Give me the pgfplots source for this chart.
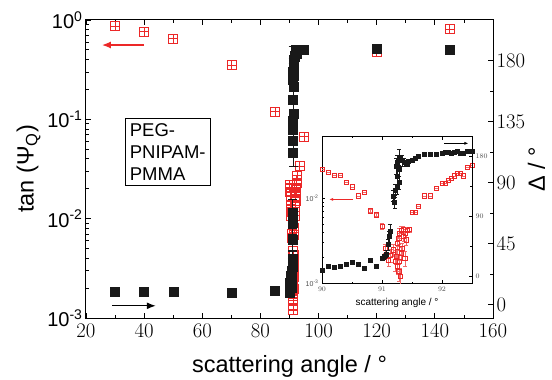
\documentclass[border=0pt]{standalone}
\usepackage{pgfplots}
\pgfplotsset{compat=1.18}
\usepackage{pgfplotstable}
\usepackage{fontspec}
\setmainfont{Liberation Sans}
\usetikzlibrary{arrows.meta}
\definecolor{myred}{RGB}{236,40,40}
\definecolor{myblack}{RGB}{25,25,25}

\pgfdeclareplotmark{sqplus}{%
  \pgfpathrectangle{\pgfqpoint{-\pgfplotmarksize}{-\pgfplotmarksize}}{\pgfqpoint{2\pgfplotmarksize}{2\pgfplotmarksize}}%
  \pgfpathmoveto{\pgfqpoint{-\pgfplotmarksize}{0pt}}\pgfpathlineto{\pgfqpoint{\pgfplotmarksize}{0pt}}%
  \pgfpathmoveto{\pgfqpoint{0pt}{-\pgfplotmarksize}}\pgfpathlineto{\pgfqpoint{0pt}{\pgfplotmarksize}}%
  \pgfusepathqstroke}

% tan(Psi) outside the inset range
\pgfplotstableread{
x y
30 0.87
40 0.76
50 0.65
70 0.353
85 0.12
92.6 0.027
93.4 0.034
95 0.067
120 0.48
145 0.81
}\redmain

% Delta outside the inset range
\pgfplotstableread{
x y
30 9.5
40 9.5
50 9.6
70 9
85 10
95 188
120 189
145 188
}\blackmain

% tan(Psi) near 90 deg
\pgfplotstableread{
x y e
90.00 0.0219 0
90.10 0.0204 0
90.20 0.0187 0
90.30 0.0186 0
90.40 0.0153 0
90.50 0.0136 0
90.60 0.0107 0
90.70 0.0118 0
90.80 0.0071 0.0003
90.90 0.0064 0.0003
91.00 0.0047 0.0004
91.05 0.00258 0.0003
91.11 0.00188 0.0003
91.14 0.00215 0.0004
91.19 0.00247 0.0004
91.22 0.00180 0.0004
91.24 0.00206 0.0004
91.26 0.00157 0.0003
91.26 0.00295 0.0005
91.26 0.00235 0.0004
91.28 0.00137 0.0003
91.28 0.00338 0.0005
91.29 0.00389 0.0005
91.29 0.00180 0.0004
91.30 0.00120 0.0003
91.32 0.00424 0.0004
91.32 0.00225 0.0004
91.33 0.00258 0.0004
91.35 0.00431 0.0004
91.36 0.00355 0.0004
91.38 0.00197 0.0004
91.39 0.00389 0.0004
91.40 0.00324 0.0004
91.42 0.00424 0.0003
91.46 0.00431 0.0003
91.50 0.0068 0
91.55 0.0068 0
91.60 0.0081 0
91.70 0.0107 0
91.80 0.0107 0
91.90 0.0130 0
92.00 0.0151 0
92.05 0.0151 0
92.10 0.0164 0
92.15 0.0170 0
92.20 0.0184 0
92.25 0.0196 0
92.30 0.0195 0
92.35 0.0184 0
92.42 0.0229 0
92.50 0.0246 0
}\redinset

% Delta near 90 deg
\pgfplotstableread{
x y e
90.00 9 0
90.10 16 0
90.20 14 0
90.30 16 0
90.40 18 0
90.50 21 0
90.60 19 0
90.70 12 0
90.80 25 0
90.90 16 0
91.00 28 3
91.03 30 4
91.07 34 5
91.10 48 8
91.12 60 8
91.13 68 10
91.19 121 8
91.21 112 10
91.22 129 10
91.25 136 12
91.28 141 10
91.26 151 12
91.29 161 10
91.24 166 12
91.25 172 10
91.28 179 12
91.33 174 8
91.37 172 6
91.42 169 4
91.44 173 3
91.50 174 0
91.55 177 0
91.60 181 0
91.70 184 0
91.80 183 0
91.90 184 0
92.00 185 0
92.05 186 0
92.10 186 0
92.15 185 0
92.20 186 0
92.25 188 0
92.30 185 0
92.35 185 0
92.42 188 0
92.50 188 0
}\blackinset

\pgfplotsset{
  mainstyle/.style={
    scale only axis, width=407pt, height=298pt,
    at={(86pt,62pt)}, anchor=south west,
    tick align=inside, major tick length=5pt, minor tick length=3pt,
    tick label style={font=\fontsize{20}{24}\selectfont},
    label style={font=\fontsize{23.5}{28}\selectfont},
    axis line style={line width=1pt},
    every tick/.style={black, line width=0.8pt},
  },
  insetstyle/.style={
    scale only axis, width=150pt, height=146.6pt,
    at={(322pt,96.7pt)}, anchor=south west,
    tick align=inside, major tick length=3pt, minor tick length=1.8pt,
    tick label style={font=\fontsize{7}{8}\selectfont, text=black!70},
    label style={font=\fontsize{10}{12}\selectfont},
    axis line style={line width=0.6pt},
    every tick/.style={black, line width=0.5pt},
    xmin=90, xmax=92.5,
  },
}

\begin{document}
\begin{tikzpicture}
\useasboundingbox (0,0) rectangle (552pt,380pt);
% ---------- main, left axis ----------
\begin{axis}[mainstyle,
  xmin=20, xmax=160, ymode=log, ymin=1e-3, ymax=1,
  xtick={20,40,...,160}, minor x tick num=1, xtick pos=both,
  xticklabel style={yshift=-3pt},
  ytick={1e-3,1e-2,1e-1,1},
  yticklabels={10\textsuperscript{-3},10\textsuperscript{-2},10\textsuperscript{-1},10\textsuperscript{0}},
  ytick pos=left,
  xlabel={scattering angle / °},
  xlabel style={yshift=-11pt},
  ylabel={tan (Ψ\textsubscript{Q})},
]
\addplot[only marks, mark=sqplus, mark size=4.5pt, myred, line width=0.7pt] table[x=x,y=y]{\redmain};
\addplot[only marks, mark=sqplus, mark size=4.5pt, myred, line width=0.7pt] table[x=x,y=y]{\redinset};
\draw[myred, line width=1.2pt, -{Latex[length=9pt,width=7pt]}] (axis cs:40,0.56) -- (axis cs:25.5,0.56);
\node[draw, line width=0.8pt, fill=white, anchor=north west, align=left, inner xsep=4.5pt, inner ysep=5pt,
  font=\fontsize{18.5}{22}\selectfont] at (rel axis cs:0.0958,0.671) {PEG-\\PNIPAM-\\PMMA};
\end{axis}
% ---------- main, right axis ----------
\begin{axis}[mainstyle,
  xmin=20, xmax=160, hide x axis,
  axis y line*=right, ymin=-10, ymax=210,
  ytick={0,45,...,180}, minor y tick num=1,
  ylabel={Δ / °},
  ylabel style={xshift=0pt, yshift=4pt},
]
\addplot[only marks, mark=square*, mark size=4.5pt, myblack,
  error bars/.cd, y dir=both, y explicit, error bar style={line width=0.8pt}] table[x=x,y=y,y error=e]{\blackinset};
\addplot[only marks, mark=square*, mark size=4.5pt, myblack] table[x=x,y=y]{\blackmain};
\draw[black, line width=1.2pt, -{Latex[length=9pt,width=7pt]}] (axis cs:29,-1) -- (axis cs:44,-1);
\end{axis}
% ---------- inset, left axis ----------
\begin{axis}[insetstyle,
  axis background/.style={fill=white},
  ymode=log, ymin=1e-3, ymax=0.053,
  xtick={90,91,92}, minor x tick num=1, xtick pos=both,
  ytick={1e-3,1e-2},
  yticklabels={10\textsuperscript{-3},10\textsuperscript{-2}},
  ytick pos=left,
  xlabel={scattering angle / °},
]
\addplot[only marks, mark=square, mark size=2.1pt, myred, line width=0.7pt,
  error bars/.cd, y dir=both, y explicit, error bar style={line width=0.5pt, myred!70}] table[x=x,y=y,y error=e]{\redinset};
\draw[myred, line width=0.7pt, -{Latex[length=4pt,width=3pt]}] (axis cs:90.52,0.0097) -- (axis cs:90.12,0.0097);
\end{axis}
% ---------- inset, right axis ----------
\begin{axis}[insetstyle,
  hide x axis,
  axis y line*=right, ymin=-10, ymax=210,
  ytick={0,90,180}, minor y tick num=1,
]
\addplot[only marks, mark=square*, mark size=2pt, myblack,
  error bars/.cd, y dir=both, y explicit, error bar style={line width=0.5pt}] table[x=x,y=y,y error=e]{\blackinset};
\draw[black, line width=0.7pt, -{Latex[length=4pt,width=3pt]}] (axis cs:92.04,200) -- (axis cs:92.44,200);
\end{axis}
\end{tikzpicture}
\end{document}
